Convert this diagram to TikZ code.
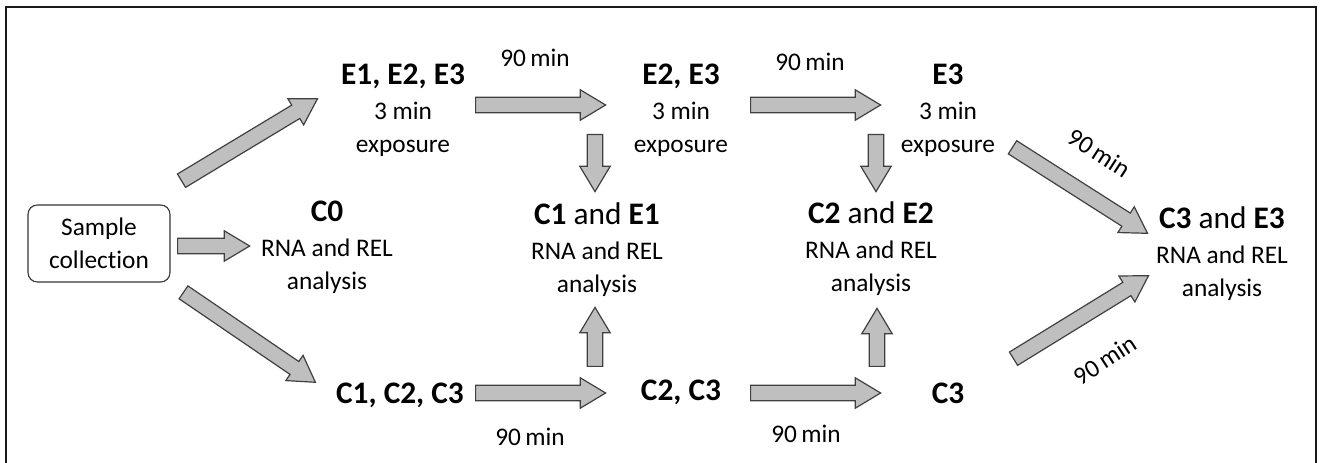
\documentclass[tikz,border=0pt]{standalone}
\usepackage{fontspec}
\setmainfont{Carlito}[Ligatures=NoCommon]
\usepackage{tikz}
\usetikzlibrary{shapes.arrows,calc,positioning}
\tikzstyle{frame} = [draw=black!90, line width=1.6pt]
\tikzstyle{samplebox} = [rectangle, draw=black!80, line width=0.8pt, rounded corners=7pt, minimum width=106.5pt, minimum height=57.75pt, align=center, inner sep=0pt, font=\fontsize{19}{24.75}\selectfont]
\tikzstyle{stage} = [align=center, inner sep=0pt, font=\fontsize{19}{24.75}\selectfont]
\tikzstyle{barrow} = [single arrow, draw=black!75, fill=black!25, line width=0.9pt, inner xsep=0pt, inner ysep=5.4pt, minimum width=0pt, single arrow head extend=5.6pt, single arrow tip angle=62, single arrow head indent=0pt]
\tikzstyle{tlabel} = [inner sep=0pt, font=\fontsize{19}{24.75}\selectfont]
\newcommand{\hd}[1]{{\fontsize{23.5}{24.75}\selectfont\bfseries #1}}
\newcommand{\hdand}[2]{{\fontsize{23.5}{24.75}\selectfont\textbf{#1} and \textbf{#2}}}
\newcommand{\blockarrow}[2]{\path let \p1=(#1), \p2=(#2), \n1={atan2(\y2-\y1,\x2-\x1)}, \n2={veclen(\x2-\x1,\y2-\y1)} in node[barrow, minimum height=\n2, rotate=\n1, anchor=tail] at (\p1) {};}
\begin{document}
\begin{tikzpicture}[x=0.75pt, y=-0.75pt]
		\useasboundingbox (0,0) rectangle (1322,463);
		\draw [frame] (6,7) rectangle (1316,480);
		
		\node [samplebox] (sample) at (99,243.5) {Sample\\collection};
		\node [stage] (c0) at (327,247) {\hd{C0}\\[1.5pt]RNA and REL\\analysis};
		
		\node [stage] (e123) at (403,110) {\hd{E1, E2, E3}\\[1.5pt]3 min\\exposure};
		\node [stage] (e23) at (681,110) {\hd{E2, E3}\\[1.5pt]3 min\\exposure};
		\node [stage] (e3) at (948,110) {\hd{E3}\\[1.5pt]3 min\\exposure};
		
		\node [stage] (ce1) at (597,250) {\hdand{C1}{E1}\\[1.5pt]RNA and REL\\analysis};
		\node [stage] (ce2) at (871,249) {\hdand{C2}{E2}\\[1.5pt]RNA and REL\\analysis};
		\node [stage] (ce3) at (1222,254) {\hdand{C3}{E3}\\[1.5pt]RNA and REL\\analysis};
		
		\node [stage] (c123) at (400,395) {\hd{C1, C2, C3}};
		\node [stage] (c23) at (681,392) {\hd{C2, C3}};
		\node [stage] (c3) at (948,393) {\hd{C3}};
		
		\blockarrow{$(sample)+(82,-62.5)$}{$(e123)+(-86,-11)$}
		\blockarrow{$(sample)+(78,2.5)$}{$(c0)+(-78,-1)$}
		\blockarrow{$(sample)+(84,48.5)$}{$(c123)+(-85,-13)$}
		
		\blockarrow{$(e123)+(72,-5)$}{$(e23)+(-76,-5)$}
		\blockarrow{$(e23)+(69,-5)$}{$(e3)+(-68,-5)$}
		\blockarrow{$(e23)+(-86,24)$}{$(ce1)+(-2,-59)$}
		\blockarrow{$(e3)+(-72,24)$}{$(ce2)+(5,-58)$}
		\blockarrow{$(e3)+(64,37)$}{$(ce3)+(-75,-21)$}
		
		\blockarrow{$(c123)+(75,-2)$}{$(c23)+(-76,1)$}
		\blockarrow{$(c23)+(69,1)$}{$(c3)+(-68,0)$}
		\blockarrow{$(c23)+(-86,-25)$}{$(ce1)+(-2,58)$}
		\blockarrow{$(c3)+(-71,-26)$}{$(ce2)+(6,60)$}
		\blockarrow{$(c3)+(65,-34)$}{$(ce3)+(-74,22)$}
		
		\node [tlabel] (t1) at (535,58) {90\,min};
		\node [tlabel] (t2) at (810,62) {90\,min};
		\node [tlabel] (t3) at (530,437) {90\,min};
		\node [tlabel] (t4) at (806,434) {90\,min};
		\node [tlabel, rotate=-33] (t5) at (1099,153) {90\,min};
		\node [tlabel, rotate=33] (t6) at (1105,360) {90\,min};
\end{tikzpicture}
\end{document}
